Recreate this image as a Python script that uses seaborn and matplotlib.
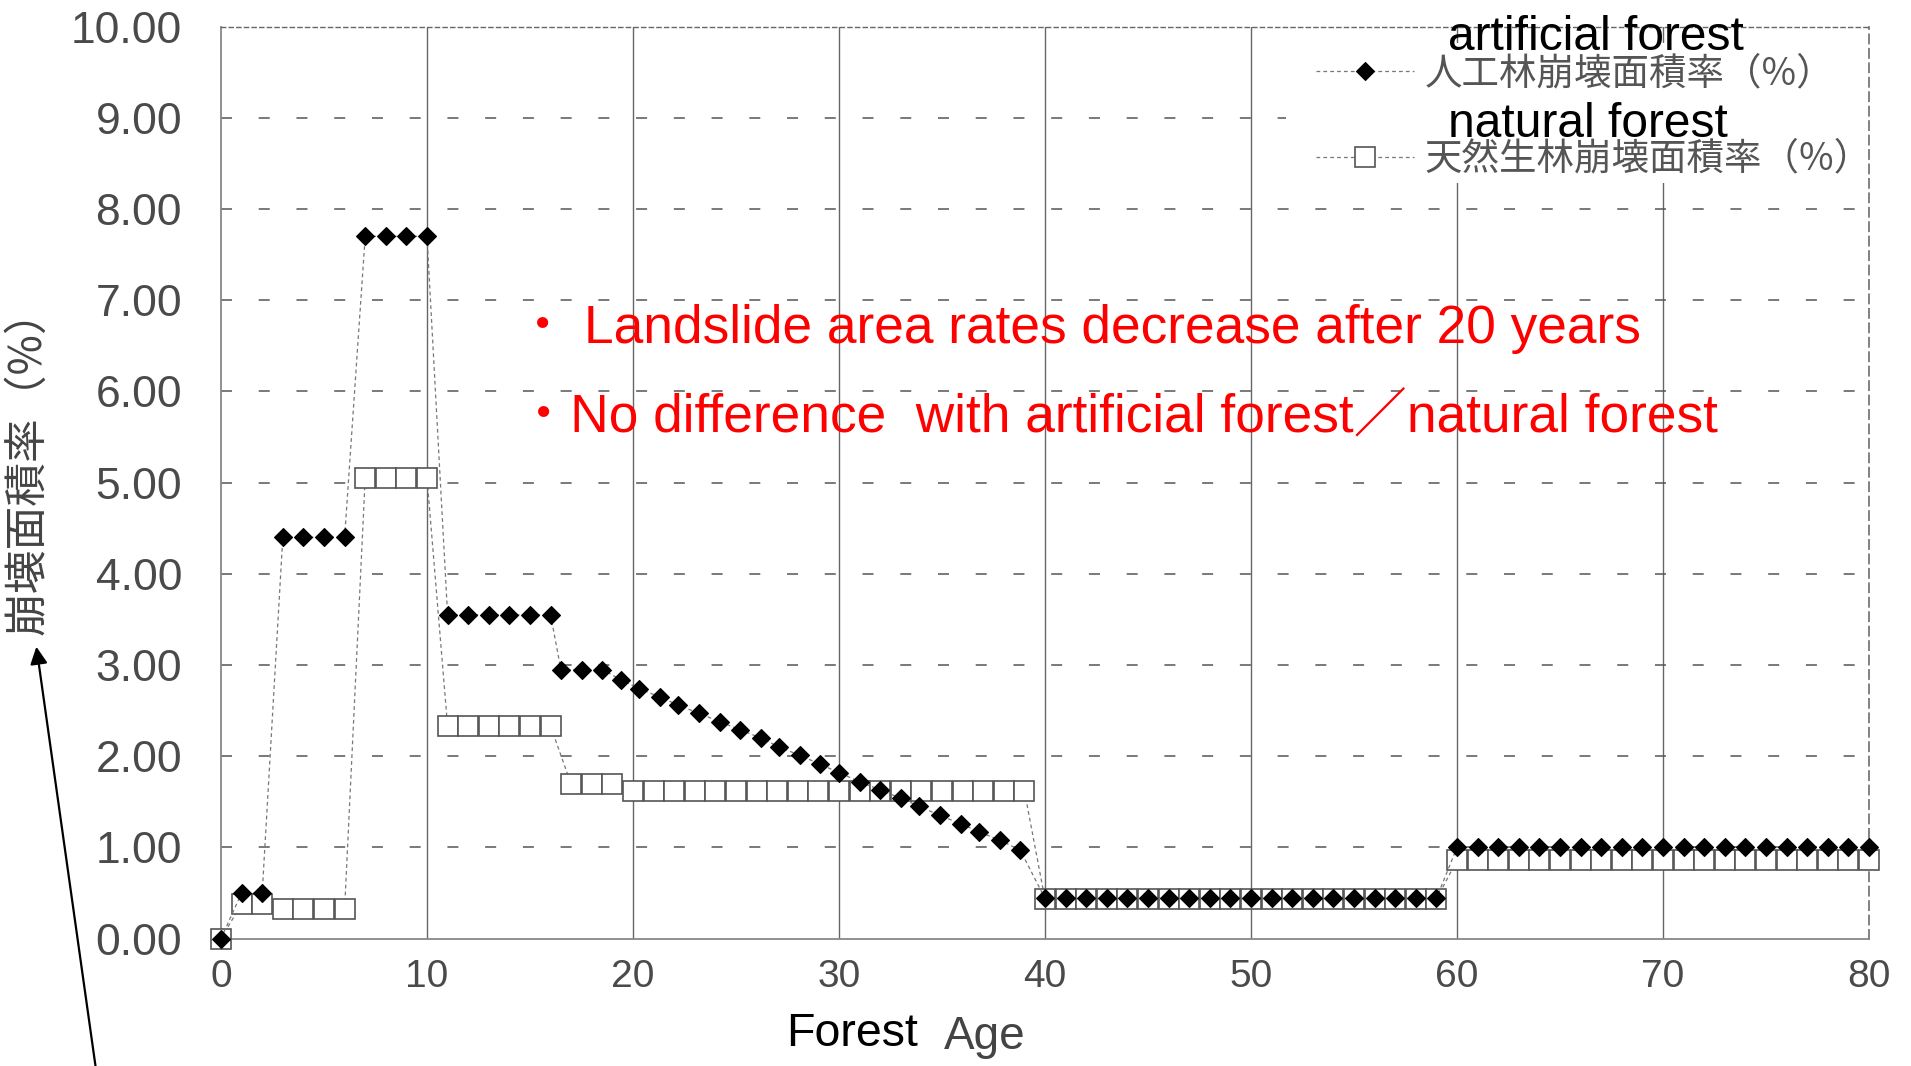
#chart of landslide area rate by forest age, artificial vs natural forest

import numpy as np
import pandas as pd
import matplotlib
matplotlib.use('Agg')
from matplotlib import pyplot as plt
from matplotlib.patches import Rectangle
from matplotlib.font_manager import FontProperties
import seaborn as sns

#values (forest age in years, rate in %)
art_age = [0, 1, 2, 3, 4, 5, 6, 7, 8, 9, 10, 11, 12, 13, 14, 15, 16,
           16.5, 17.5, 18.5, 19.4, 20.3, 21.3, 22.2, 23.2, 24.2, 25.2, 26.2, 27.1,
           28.1, 29.1, 30.0, 31.0, 32.0, 33.0, 33.9, 34.9, 35.9, 36.8, 37.8, 38.8,
           40, 41, 42, 43, 44, 45, 46, 47, 48, 49, 50, 51, 52, 53, 54, 55, 56, 57, 58, 59,
           60, 61, 62, 63, 64, 65, 66, 67, 68, 69, 70, 71, 72, 73, 74, 75, 76, 77, 78, 79, 80]
art_rate = [0.00, 0.50, 0.50, 4.40, 4.40, 4.40, 4.40, 7.70, 7.70, 7.70, 7.70,
            3.55, 3.55, 3.55, 3.55, 3.55, 3.55,
            2.95, 2.95, 2.95, 2.84, 2.74, 2.65, 2.56, 2.47, 2.38, 2.29, 2.20, 2.10,
            2.01, 1.91, 1.82, 1.72, 1.63, 1.54, 1.45, 1.35, 1.26, 1.17, 1.08, 0.97,
            0.44, 0.44, 0.44, 0.44, 0.44, 0.44, 0.44, 0.44, 0.44, 0.44,
            0.44, 0.44, 0.44, 0.44, 0.44, 0.44, 0.44, 0.44, 0.44, 0.44,
            1.00, 1.00, 1.00, 1.00, 1.00, 1.00, 1.00, 1.00, 1.00, 1.00, 1.00,
            1.00, 1.00, 1.00, 1.00, 1.00, 1.00, 1.00, 1.00, 1.00, 1.00]

nat_age = list(range(0, 81))
nat_rate = [0.00, 0.38, 0.38, 0.32, 0.32, 0.32, 0.32, 5.05, 5.05, 5.05, 5.05,
            2.33, 2.33, 2.33, 2.33, 2.33, 2.33, 1.69, 1.69, 1.69,
            1.62, 1.62, 1.62, 1.62, 1.62, 1.62, 1.62, 1.62, 1.62, 1.62,
            1.62, 1.62, 1.62, 1.62, 1.62, 1.62, 1.62, 1.62, 1.62, 1.62,
            0.43, 0.43, 0.43, 0.43, 0.43, 0.43, 0.43, 0.43, 0.43, 0.43,
            0.43, 0.43, 0.43, 0.43, 0.43, 0.43, 0.43, 0.43, 0.43, 0.43,
            0.86, 0.86, 0.86, 0.86, 0.86, 0.86, 0.86, 0.86, 0.86, 0.86, 0.86,
            0.86, 0.86, 0.86, 0.86, 0.86, 0.86, 0.86, 0.86, 0.86, 0.86]

x_ticks = [0, 10, 20, 30, 40, 50, 60, 70, 80]
y_ticks = [0, 1, 2, 3, 4, 5, 6, 7, 8, 9, 10]
legend_labels = ['人工林崩壊面積率（%）', '天然生林崩壊面積率（%）']
legend_english = ['artificial forest', 'natural forest']
y_label = '崩壊面積率（%）'
notes = ['・ Landslide area rates decrease after 20 years',
         '・No difference  with artificial forest／natural forest']

art = pd.DataFrame({'age': art_age, 'rate': art_rate})
nat = pd.DataFrame({'age': nat_age, 'rate': nat_rate})

sns.set_style('white')
plt.rcParams['font.family'] = ['Liberation Sans', 'Noto Sans CJK JP']

W, H = 1911, 1066
fig = plt.figure(figsize=(W / 100, H / 100), dpi=100, facecolor='white')
ax = fig.add_axes([221 / W, 1 - 938.6 / H, 1648 / W, 912 / H])

#natural forest first so the diamonds sit on top
sns.lineplot(data=nat, x='age', y='rate', ax=ax, errorbar=None, legend=False,
             color='#777777', linestyle=(0, (3, 2.5)), linewidth=0.9,
             marker='s', markersize=14.5, markerfacecolor='white',
             markeredgecolor='#555555', markeredgewidth=1.2,
             clip_on=False, zorder=3, label=legend_labels[1])
h_nat = ax.lines[-1]
sns.lineplot(data=art, x='age', y='rate', ax=ax, errorbar=None, legend=False,
             color='#777777', linestyle=(0, (3, 2.5)), linewidth=0.9,
             marker='D', markersize=9.5, markerfacecolor='black',
             markeredgecolor='black', markeredgewidth=0.8,
             clip_on=False, zorder=4, label=legend_labels[0])
h_art = ax.lines[-1]

ax.set_xlim(0, 80)
ax.set_ylim(0, 10)
ax.set_xticks(x_ticks)
ax.set_yticks(y_ticks)
ax.set_yticklabels(['%.2f' % v for v in y_ticks])
ax.set_xlabel('')
ax.tick_params(axis='both', length=0, labelcolor='#4a4a4a')
ax.tick_params(axis='y', labelsize=32, pad=28)
ax.tick_params(axis='x', labelsize=28, pad=15)

#grid: solid verticals, long dashed horizontals
ax.set_axisbelow(True)
ax.grid(axis='x', color='#666666', linewidth=1.0, linestyle='-')
ax.grid(axis='y', color='#555555', linewidth=1.1, linestyle=(0, (7.2, 17.5)))
ax.xaxis.get_gridlines()[0].set_visible(False)
ax.xaxis.get_gridlines()[-1].set_visible(False)
ax.yaxis.get_gridlines()[0].set_visible(False)
ax.yaxis.get_gridlines()[-1].set_visible(False)

for side in ['left', 'bottom']:
    ax.spines[side].set_color('#888888')
    ax.spines[side].set_linewidth(1.3)
ax.spines['top'].set_color('#666666')
ax.spines['top'].set_linewidth(1.0)
ax.spines['top'].set_linestyle((0, (3, 2.5)))
ax.spines['right'].set_color('#777777')
ax.spines['right'].set_linewidth(1.3)
ax.spines['right'].set_linestyle((0, (5, 3)))

#white box behind the legend hides the grid
ax.add_patch(Rectangle((1286 / W, 1 - 183 / H), 572 / W, 140 / H, transform=fig.transFigure,
                       facecolor='white', edgecolor='none', zorder=1))

leg_font = FontProperties(family=['Noto Sans CJK JP'], size=27)
ax.legend(handles=[h_art, h_nat], labels=legend_labels, loc='upper left',
          bbox_to_anchor=(1316 / W, 1 - 54 / H), bbox_transform=fig.transFigure,
          prop=leg_font, labelcolor='#555555', frameon=False, borderpad=0,
          borderaxespad=0, handlelength=2.6, handletextpad=0.3, labelspacing=1.25)

fig.text(1448 / W, 1 - 50 / H, legend_english[0], fontsize=34.5, color='black',
         ha='left', va='baseline', zorder=10)
fig.text(1448 / W, 1 - 137 / H, legend_english[1], fontsize=34.5, color='black',
         ha='left', va='baseline', zorder=10)

#y axis label
ax.set_ylabel(y_label, fontsize=31.5, color='#444444', va='center',
              family=['Noto Sans CJK JP'])
ax.yaxis.set_label_coords((27 - 221) / 1648, (938.6 - 462) / 912)

#x axis label in two parts
fig.text(786 / W, 1 - 1046 / H, 'Forest', fontsize=33.5, color='black', ha='left', va='baseline')
fig.text(944 / W, 1 - 1049 / H, 'Age', fontsize=33, color='#444444', ha='left', va='baseline')

#red notes
fig.text(516 / W, 1 - 342.7 / H, notes[0], fontsize=38.3, color='#ff0000', ha='left', va='baseline')
fig.text(517 / W, 1 - 431.7 / H, notes[1], fontsize=38.3, color='#ff0000', ha='left', va='baseline')

#arrow pointing at the y label
ax.annotate('', xy=(36 / W, 1 - 644 / H), xycoords='figure fraction',
            xytext=(97 / W, -0.01), textcoords='figure fraction',
            arrowprops=dict(arrowstyle='-|>', color='black', lw=1.6, mutation_scale=26),
            annotation_clip=False)

fig.savefig('out.png', dpi=100, facecolor='white')
